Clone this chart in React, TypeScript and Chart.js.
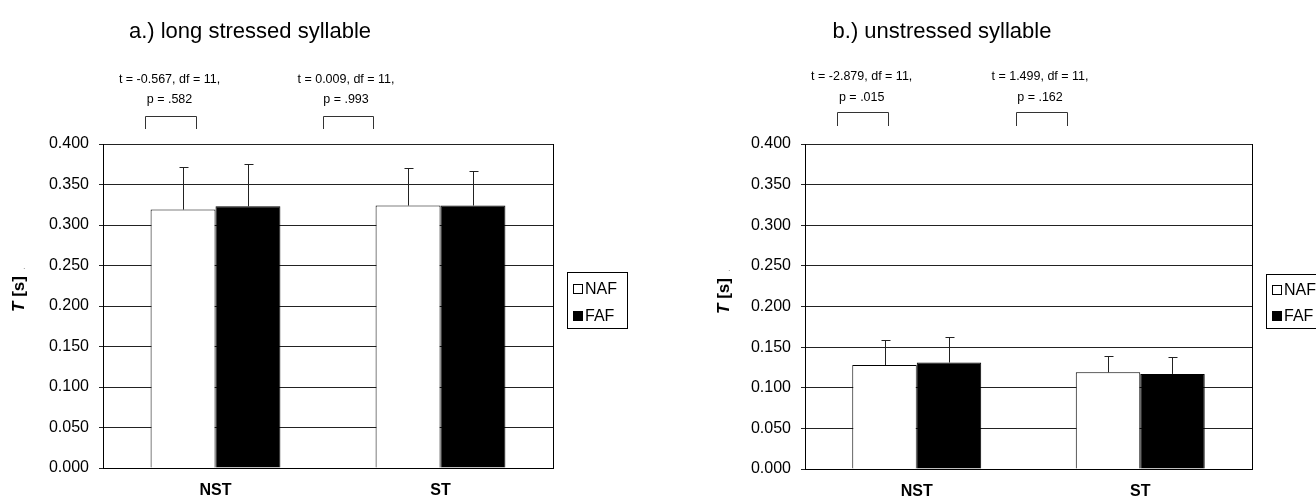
import React, { useEffect, useRef } from "react";
import { Chart, registerables } from "chart.js";

Chart.register(...registerables);

// ---------- data ----------
const categories = ["NST", "ST"];
const seriesNames = ["NAF", "FAF"];

const stressedNAF = [0.319, 0.324];
const stressedFAF = [0.323, 0.324];
const stressedNAFErr = [0.053, 0.046];
const stressedFAFErr = [0.052, 0.043];

const unstressedNAF = [0.128, 0.119];
const unstressedFAF = [0.131, 0.117];
const unstressedNAFErr = [0.031, 0.02];
const unstressedFAFErr = [0.031, 0.021];

const yMin = 0;
const yMax = 0.4;
const yStep = 0.05;

const stressedTitle = "a.) long stressed syllable";
const unstressedTitle = "b.) unstressed syllable";
const stressedTests = [
  ["t = -0.567, df = 11,", "p = .582"],
  ["t = 0.009, df = 11,", "p = .993"],
];
const unstressedTests = [
  ["t = -2.879, df = 11,", "p = .015"],
  ["t = 1.499, df = 11,", "p = .162"],
];
const yAxisTitle = ["T", " [s]"];

// ---------- layout (pixels, per canvas) ----------
const FONT = "'Liberation Sans', Arial, Helvetica, sans-serif";
const W = 658;
const H = 498;

type Layout = {
  plotLeft: number;
  plotRight: number;
  plotTop: number;
  plotBottom: number;
  titleX: number;
  titleY: number;
  testY: [number, number];
  testCx: number[];
  bracketX: [number, number][];
  bracketY: [number, number];
  legend: { x: number; y: number; w: number; h: number; rows: number[] };
  yTitle: { x: number; y: number };
};

const layoutA: Layout = {
  plotLeft: 103,
  plotRight: 553,
  plotTop: 144,
  plotBottom: 468,
  titleX: 250,
  titleY: 32,
  testY: [80, 100],
  testCx: [169.5, 346],
  bracketX: [
    [145, 196],
    [323, 373],
  ],
  bracketY: [116, 129],
  legend: { x: 567, y: 272, w: 60, h: 56, rows: [289, 316] },
  yTitle: { x: 19, y: 294 },
};

const layoutB: Layout = {
  plotLeft: 147,
  plotRight: 594,
  plotTop: 144,
  plotBottom: 469,
  titleX: 284,
  titleY: 32,
  testY: [77, 97.5],
  testCx: [203.7, 382],
  bracketX: [
    [179, 230],
    [358, 409],
  ],
  bracketY: [112, 126],
  legend: { x: 608, y: 274, w: 60, h: 54, rows: [290, 316] },
  yTitle: { x: 66, y: 296 },
};

function makeConfig(
  naf: number[],
  faf: number[],
  nafErr: number[],
  fafErr: number[],
  title: string,
  tests: string[][],
  L: Layout
): any {
  const overlay = {
    id: "overlay",
    afterDatasetsDraw(chart: any) {
      const ctx = chart.ctx;
      const yScale = chart.scales.y;
      ctx.save();
      ctx.strokeStyle = "#222";
      ctx.lineWidth = 1;
      chart.data.datasets.forEach((ds: any, di: number) => {
        const meta = chart.getDatasetMeta(di);
        meta.data.forEach((bar: any, i: number) => {
          const v = ds.data[i];
          const e = ds.errors[i];
          const x = Math.round(bar.x) + 0.5;
          const yTop = Math.round(yScale.getPixelForValue(v + e)) + 0.5;
          const yBar = bar.y;
          ctx.beginPath();
          ctx.moveTo(x, yBar);
          ctx.lineTo(x, yTop);
          ctx.moveTo(x - 4, yTop);
          ctx.lineTo(x + 5, yTop);
          ctx.stroke();
        });
      });
      ctx.restore();
    },
    afterDraw(chart: any) {
      const ctx = chart.ctx;
      const area = chart.chartArea;
      ctx.save();
      // right frame line
      ctx.strokeStyle = "#000";
      ctx.lineWidth = 1;
      ctx.beginPath();
      ctx.moveTo(Math.round(area.right) + 0.5, Math.round(area.top));
      ctx.lineTo(Math.round(area.right) + 0.5, Math.round(area.bottom) + 1);
      ctx.stroke();

      // title
      ctx.fillStyle = "#000";
      ctx.font = `22px ${FONT}`;
      ctx.textAlign = "center";
      ctx.textBaseline = "middle";
      ctx.fillText(title, L.titleX, L.titleY);

      // t-test annotations
      ctx.font = `12.5px ${FONT}`;
      tests.forEach((lines, i) => {
        ctx.fillText(lines[0], L.testCx[i], L.testY[0]);
        ctx.fillText(lines[1], L.testCx[i], L.testY[1]);
        const [x1, x2] = L.bracketX[i];
        ctx.strokeStyle = "#333";
        ctx.beginPath();
        ctx.moveTo(x1 + 0.5, L.bracketY[1]);
        ctx.lineTo(x1 + 0.5, L.bracketY[0] + 0.5);
        ctx.lineTo(x2 + 0.5, L.bracketY[0] + 0.5);
        ctx.lineTo(x2 + 0.5, L.bracketY[1]);
        ctx.stroke();
      });

      // legend
      const lg = L.legend;
      ctx.strokeStyle = "#000";
      ctx.strokeRect(lg.x + 0.5, lg.y + 0.5, lg.w, lg.h);
      ctx.font = `16px ${FONT}`;
      ctx.textAlign = "left";
      chart.data.datasets.forEach((ds: any, di: number) => {
        const cy = lg.rows[di];
        const sx = lg.x + 6;
        const sy = Math.round(cy - 5);
        ctx.fillStyle = ds.backgroundColor;
        ctx.fillRect(sx, sy, 10, 10);
        ctx.strokeStyle = "#000";
        ctx.strokeRect(sx + 0.5, sy + 0.5, 9, 9);
        ctx.fillStyle = "#000";
        ctx.fillText(ds.label, lg.x + 18, cy + 1);
      });

      // y axis title (rotated)
      ctx.translate(L.yTitle.x, L.yTitle.y);
      ctx.rotate(-Math.PI / 2);
      const fItalic = `italic bold 17px ${FONT}`;
      const fBold = `bold 17px ${FONT}`;
      ctx.font = fItalic;
      const w1 = ctx.measureText(yAxisTitle[0]).width;
      ctx.font = fBold;
      const w2 = ctx.measureText(yAxisTitle[1]).width;
      const start = -(w1 + w2) / 2;
      ctx.textAlign = "left";
      ctx.fillStyle = "#000";
      ctx.font = fItalic;
      ctx.fillText(yAxisTitle[0], start, 0);
      ctx.font = fBold;
      ctx.fillText(yAxisTitle[1], start + w1, 0);
      ctx.fillStyle = "#999";
      ctx.font = `10px ${FONT}`;
      ctx.fillText(".", start + w1 + w2 + 6, 3);
      ctx.restore();
    },
  };

  return {
    type: "bar",
    data: {
      labels: categories,
      datasets: [
        {
          label: seriesNames[0],
          data: naf,
          errors: nafErr,
          backgroundColor: "#ffffff",
          borderColor: "#000000",
          borderWidth: 1,
          categoryPercentage: 0.577,
          barPercentage: 1,
        },
        {
          label: seriesNames[1],
          data: faf,
          errors: fafErr,
          backgroundColor: "#000000",
          borderColor: "#000000",
          borderWidth: 1,
          categoryPercentage: 0.577,
          barPercentage: 1,
        },
      ],
    },
    options: {
      responsive: false,
      animation: false,
      devicePixelRatio: 1,
      layout: {
        padding: { left: 0, right: W - L.plotRight, top: L.plotTop, bottom: 0 },
      },
      plugins: {
        legend: { display: false },
        tooltip: { enabled: false },
        title: { display: false },
      },
      scales: {
        x: {
          type: "category",
          grid: { display: false, drawTicks: false },
          border: { display: true, color: "#000", width: 1 },
          ticks: {
            color: "#000",
            font: { family: FONT, size: 16, weight: "bold" },
            padding: 13,
            maxRotation: 0,
          },
          afterFit(scale: any) {
            scale.height = H - L.plotBottom;
          },
        },
        y: {
          min: yMin,
          max: yMax,
          grid: {
            color: "#222",
            lineWidth: 1,
            tickLength: 4,
            drawTicks: true,
          },
          border: { display: true, color: "#000", width: 1 },
          ticks: {
            stepSize: yStep,
            color: "#000",
            padding: 10,
            font: { family: FONT, size: 16 },
            callback: (v: any) => Number(v).toFixed(3),
          },
          afterFit(scale: any) {
            scale.width = L.plotLeft;
          },
        },
      },
    },
    plugins: [overlay],
  };
}

function Panel(props: { config: any; left: number }) {
  const ref = useRef<HTMLCanvasElement | null>(null);
  useEffect(() => {
    if (!ref.current) return;
    const chart = new Chart(ref.current, props.config);
    return () => chart.destroy();
  }, []);
  return (
    <canvas
      ref={ref}
      width={W}
      height={H}
      style={{ position: "absolute", left: props.left, top: 0, width: W, height: H, display: "block" }}
    />
  );
}

export default function App() {
  const cfgA = makeConfig(
    stressedNAF,
    stressedFAF,
    stressedNAFErr,
    stressedFAFErr,
    stressedTitle,
    stressedTests,
    layoutA
  );
  const cfgB = makeConfig(
    unstressedNAF,
    unstressedFAF,
    unstressedNAFErr,
    unstressedFAFErr,
    unstressedTitle,
    unstressedTests,
    layoutB
  );
  return (
    <div
      style={{
        position: "fixed",
        left: 0,
        top: 0,
        width: 1316,
        height: 498,
        overflow: "hidden",
        background: "#fff",
      }}
    >
      <Panel config={cfgA} left={0} />
      <Panel config={cfgB} left={658} />
    </div>
  );
}
